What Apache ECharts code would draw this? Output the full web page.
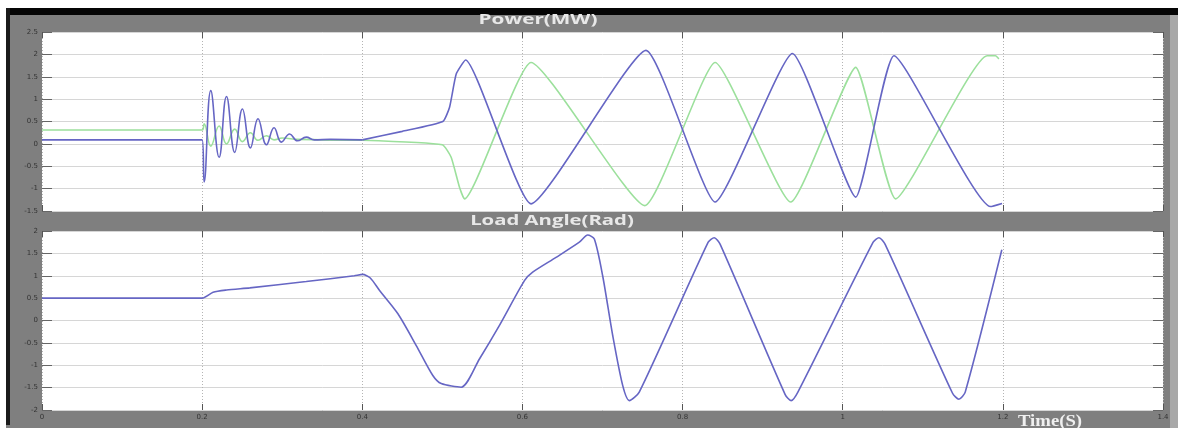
<!DOCTYPE html>
<html>
<head>
<meta charset="utf-8">
<script src="https://cdn.jsdelivr.net/npm/echarts@6/dist/echarts.min.js"></script>
<style>
  html, body { margin: 0; padding: 0; background: #fff; }
  #chart { width: 1178px; height: 428px; }
</style>
</head>
<body>
<div id="chart"></div>
<script>
// [time (s), value]
// fault transient (drawn smoother) and the pole-slip part are kept apart
const powerBlueFault = [
  [0, 0.09], [0.2, 0.09], [0.2025, -0.85], [0.2108, 1.19], [0.2212, -0.30], [0.2304, 1.06],
  [0.2407, -0.19], [0.2503, 0.78], [0.2603, -0.09], [0.2698, 0.56], [0.2803, -0.02],
  [0.2898, 0.36], [0.299, 0.04], [0.3093, 0.22], [0.319, 0.07], [0.330, 0.15], [0.34, 0.09],
  [0.36, 0.10], [0.4, 0.09]
];
const powerBlueSlip = [
  [0.4, 0.09], [0.45, 0.28], [0.5006, 0.50], [0.509, 0.82], [0.5173, 1.56],
  [0.5289, 1.875], [0.6108, -1.34], [0.7543, 2.09], [0.8407, -1.30], [0.9372, 2.02],
  [1.0162, -1.19], [1.064, 1.97], [1.1846, -1.40], [1.199, -1.33]
];
const powerGreenFault = [
  [0, 0.31], [0.2, 0.31], [0.2025, 0.45], [0.2108, -0.05], [0.2212, 0.40], [0.2304, 0.0],
  [0.2407, 0.33], [0.2503, 0.05], [0.2603, 0.25], [0.2698, 0.08], [0.2803, 0.18],
  [0.2898, 0.09], [0.30, 0.13], [0.32, 0.10], [0.4, 0.08]
];
const powerGreenSlip = [
  [0.4, 0.08], [0.5, -0.02], [0.511, -0.30], [0.5214, -0.97], [0.5276, -1.23],
  [0.6108, 1.82], [0.7528, -1.38], [0.8407, 1.82], [0.9351, -1.30], [1.0162, 1.71],
  [1.0661, -1.23], [1.1804, 1.97], [1.1908, 1.97], [1.195, 1.90]
];
const loadAngle = [
  [0, 0.5], [0.2, 0.5], [0.2137, 0.63], [0.2304, 0.68], [0.2595, 0.73], [0.33, 0.87],
  [0.39, 1.00], [0.4004, 1.03], [0.41, 0.95], [0.4216, 0.67], [0.4445, 0.15], [0.4674, -0.56],
  [0.4881, -1.23], [0.4986, -1.41], [0.5235, -1.49], [0.5463, -0.86], [0.5713, -0.11],
  [0.6025, 0.89], [0.6128, 1.08], [0.642, 1.41], [0.6711, 1.75], [0.6815, 1.91], [0.6898, 1.82],
  [0.7002, 1.00], [0.7127, -0.33], [0.7252, -1.45], [0.7335, -1.79], [0.7459, -1.60],
  [0.832, 1.75], [0.8395, 1.85], [0.847, 1.70], [0.928, -1.65], [0.9355, -1.79], [0.944, -1.60],
  [1.038, 1.75], [1.0453, 1.85], [1.053, 1.70], [1.137, -1.62], [1.1451, -1.76], [1.153, -1.60],
  [1.1987, 1.58]
];
const timeRange = [0, 1.4];
const powerRange = [-1.5, 2.5];
const angleRange = [-2, 2];

const blue = '#6666c4';
const green = '#9ce09c';

const chart = echarts.init(document.getElementById('chart'));

const tickLabel = { fontSize: 7, color: '#333', fontFamily: 'DejaVu Sans' };

function xAx(grid, pos, labels) {
  return {
    type: 'value', gridIndex: grid, position: pos,
    min: timeRange[0], max: timeRange[1], interval: 0.2,
    axisLine: { show: false, onZero: false },
    axisTick: { show: true, inside: true, length: 6, lineStyle: { color: '#555' } },
    axisLabel: labels ? Object.assign({ margin: 4 }, tickLabel) : { show: false },
    splitLine: { show: pos === 'bottom', lineStyle: { color: '#b4b4b4', type: [1, 2] } }
  };
}
function yAx(grid, pos, range) {
  return {
    type: 'value', gridIndex: grid, position: pos,
    min: range[0], max: range[1], interval: 0.5,
    axisLine: { show: false, onZero: false },
    axisTick: { show: true, inside: true, length: 10, lineStyle: { color: '#666' } },
    axisLabel: pos === 'left' ? Object.assign({ margin: 4 }, tickLabel) : { show: false },
    splitLine: { show: pos === 'left', lineStyle: { color: '#d6d6d6' } }
  };
}

function line(name, data, color, xi, yi, smooth) {
  return {
    name: name, type: 'line', xAxisIndex: xi, yAxisIndex: yi, data: data,
    showSymbol: false, smooth: smooth, lineStyle: { color: color, width: 1.6 }
  };
}

const titleFont = 'bold 14px "Open Sans"';

chart.setOption({
  animation: false,
  backgroundColor: '#7f7f7f',
  grid: [
    { left: 42, right: 15, top: 32, height: 179, show: true, backgroundColor: '#fff', borderWidth: 0 },
    { left: 42, right: 15, top: 231, height: 179, show: true, backgroundColor: '#fff', borderWidth: 0 }
  ],
  xAxis: [xAx(0, 'bottom', false), xAx(0, 'top', false), xAx(1, 'bottom', true), xAx(1, 'top', false)],
  yAxis: [yAx(0, 'left', powerRange), yAx(0, 'right', powerRange), yAx(1, 'left', angleRange), yAx(1, 'right', angleRange)],
  graphic: [
    { type: 'rect', shape: { x: 0, y: 0, width: 1178, height: 8 }, style: { fill: '#fff' } },
    { type: 'rect', shape: { x: 0, y: 8, width: 1178, height: 7 }, style: { fill: '#050505' } },
    { type: 'rect', shape: { x: 0, y: 8, width: 6, height: 420 }, style: { fill: '#fff' } },
    { type: 'rect', shape: { x: 6, y: 8, width: 4, height: 417 }, style: { fill: '#1a1a1a' } },
    { type: 'rect', shape: { x: 1170, y: 15, width: 8, height: 413 }, style: { fill: '#a8a8a8' } },
    { type: 'text', x: 538, y: 20, scaleX: 1.48,
      style: { text: 'Power(MW)', font: titleFont, fill: '#e8e8e8', textAlign: 'center', textVerticalAlign: 'middle' } },
    { type: 'text', x: 552, y: 221, scaleX: 1.45,
      style: { text: 'Load Angle(Rad)', font: titleFont, fill: '#e8e8e8', textAlign: 'center', textVerticalAlign: 'middle' } },
    { type: 'text', x: 1050, y: 422, scaleX: 1.1,
      style: { text: 'Time(S)', font: 'bold 17px "Liberation Serif"', fill: '#f0f0f0', textAlign: 'center', textVerticalAlign: 'middle' } }
  ],
  series: [
    line('P1 fault', powerGreenFault, green, 0, 0, 0.45),
    line('P1', powerGreenSlip, green, 0, 0, 0.15),
    line('P2 fault', powerBlueFault, blue, 0, 0, 0.45),
    line('P2', powerBlueSlip, blue, 0, 0, 0.15),
    line('Delta', loadAngle, blue, 2, 2, 0.25)
  ]
});
</script>
</body>
</html>
